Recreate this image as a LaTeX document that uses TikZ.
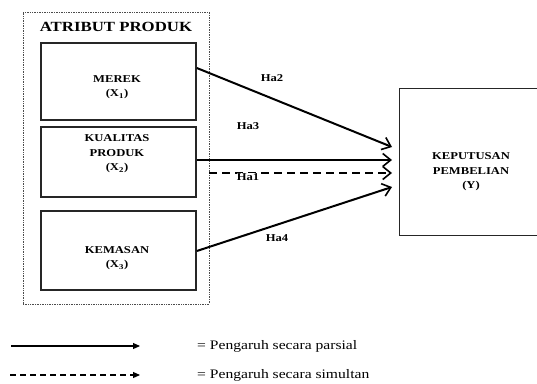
\documentclass[tikz,border=0pt]{standalone}
\usepackage{fontspec}
\setmainfont[FakeStretch=1.2]{Liberation Serif}
\usetikzlibrary{arrows.meta}
\begin{document}
\begin{tikzpicture}[x=1pt,y=-1pt,
  varbox/.style={draw=black!85,line width=1.6pt,inner sep=0pt},
  vlabel/.style={align=center,inner sep=0pt,font=\bfseries\fontsize{10.5}{14.5}\selectfont},
  hlabel/.style={font=\bfseries\fontsize{10.5}{12}\selectfont,inner sep=1pt},
  path/.style={line width=2pt,-{Straight Barb[length=8pt,width=13pt,line width=1.6pt]}},
  leg/.style={line width=1.1pt,-{Triangle[length=7pt,width=6pt]}}]
\useasboundingbox (0,0) rectangle (537,383);
% outer dotted group
\node[draw=black!70,densely dotted,line width=0.7pt,minimum width=186,minimum height=292,inner sep=0pt] (grp) at (116,158) {};
\node[font=\bfseries\fontsize{14}{16}\selectfont] (title) at (116,27) {ATRIBUT PRODUK};
\node[varbox,minimum width=155,minimum height=77] (x1) at (118.5,81.5) {};
\node[varbox,minimum width=155,minimum height=70] (x2) at (118.5,162) {};
\node[varbox,minimum width=155,minimum height=79] (x3) at (118.5,250.5) {};
\node[vlabel] (x1l) at (117,87) {MEREK\\(X\textsubscript{1})};
\node[vlabel] (x2l) at (117,154) {KUALITAS\\PRODUK\\(X\textsubscript{2})};
\node[vlabel] (x3l) at (117,258) {KEMASAN\\(X\textsubscript{3})};
\node[varbox,line width=1.4pt,minimum width=160,minimum height=147,anchor=north west] (y) at (399,88) {};
\node[vlabel] (ylab) at (471,172) {KEPUTUSAN\\PEMBELIAN\\(Y)};
\coordinate (t1) at (392,147);
\coordinate (t2) at (392,160);
\coordinate (t3) at (392,173);
\coordinate (t4) at (392,187);
\coordinate (s1) at (x1.east |- 0,68);
\coordinate (s2) at (x2.east |- 0,160);
\coordinate (s3) at (grp.east |- 0,173);
\coordinate (s4) at (x3.east |- 0,251);
\draw[path] (s1) -- (t1);
\draw[path] (s2) -- (t2);
\draw[path,dash pattern=on 8pt off 5pt,line width=1.4pt] (s3) -- (t3);
\draw[path] (s4) -- (t4);
\node[hlabel] (ha2) at (272,78) {Ha2};
\node[hlabel] (ha3) at (248,126) {Ha3};
\node[hlabel,fill=white,inner sep=0pt] (ha1) at (248,177) {Ha1};
\node[hlabel] (ha4) at (277,238) {Ha4};
% legend
\coordinate (l1a) at (11,346);
\coordinate (l1b) at (140,346);
\coordinate (l2a) at (10,375);
\coordinate (l2b) at (140,375);
\draw[leg] (l1a) -- (l1b);
\draw[leg,dash pattern=on 6pt off 4pt] (l2a) -- (l2b);
\node[anchor=west,font=\fontsize{13}{15}\selectfont,inner sep=0pt] (lt1) at (197,346) {= Pengaruh secara parsial};
\node[anchor=west,font=\fontsize{13}{15}\selectfont,inner sep=0pt] (lt2) at (197,375) {= Pengaruh secara simultan};
\end{tikzpicture}
\end{document}
